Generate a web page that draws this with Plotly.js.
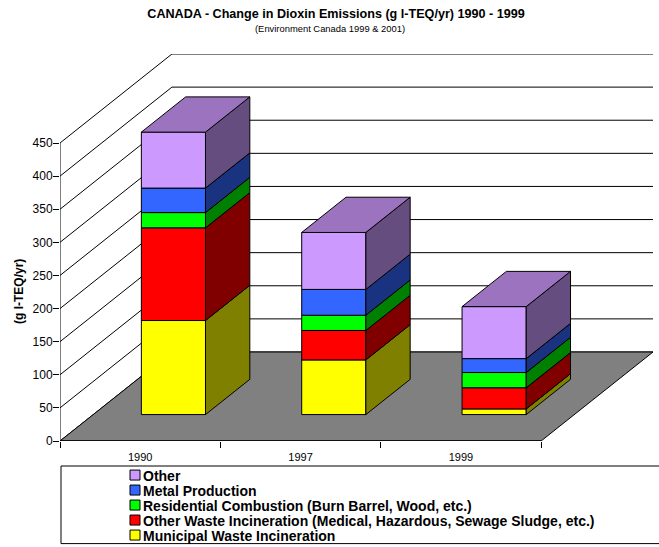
<!DOCTYPE html>
<html><head><meta charset="utf-8">
<script src="https://cdn.plot.ly/plotly-3.0.1.min.js"></script>
<style>html,body{margin:0;padding:0;background:#fff}</style>
</head><body><div id="chart" style="width:659px;height:547px"></div>
<script>
const years = ['1990','1997','1999'];
const municipal = [142, 82.5, 8.5];
const otherWaste = [140, 44.5, 32];
const residential = [23, 23, 23];
const metal = [37, 39, 21];
const other = [84.5, 86, 78.5];
const seriesNames = ['Municipal Waste Incineration','Other Waste Incineration (Medical, Hazardous, Sewage Sludge, etc.)','Residential Combustion (Burn Barrel, Wood, etc.)','Metal Production','Other'];
const frontColors = ['#FFFF00','#FF0000','#00FF00','#3366FF','#CC99FF'];
const sideColors = ['#808000','#800000','#008000','#1A3380','#664D80'];
const topColor = '#9C73BF';
const yTicks = [0,50,100,150,200,250,300,350,400,450];

// oblique projection of the depth axis, in axis units
const DX = 0.698, DY = 134.4;
const barW = 0.4, d0 = 0.297, d1 = 0.693;
const xMax = years.length;
const series = [municipal, otherWaste, residential, metal, other];
const ft = {family:'Liberation Sans, Arial, sans-serif', color:'#000'};
const traces = [];
const poly = (xs, ys, fill, lw, over) => ({type:'scatter', mode:'lines', x:xs, y:ys, fill:fill?'toself':'none', fillcolor:fill||undefined,
  line:{color:'#000', width:lw===undefined?1:lw}, hoverinfo:'skip', showlegend:false, cliponaxis:false,
  xaxis:over?'x2':'x', yaxis:over?'y2':'y'});

// gridlines on left and back walls
let gx=[], gy=[];
yTicks.forEach(v=>{gx.push(0,DX,xMax+DX,null); gy.push(v,v+DY,v+DY,null);});
traces.push(poly(gx,gy));
// floor
traces.push(poly([0,DX,xMax+DX,xMax,0],[0,DY,DY,0,0],'#808080'));
// y axis line, front axis line
traces.push(poly([0,0],[0,yTicks[yTicks.length-1]]));
traces.push(poly([0,xMax],[0,0],null,1.5));

// front faces (on an overlaying subplot so that they sit above the floor)
const cums = years.map(()=>0);
series.forEach((s,k)=>{
  traces.push({type:'bar', name:seriesNames[k], x:years.map((_,c)=>c+0.5+d0*DX), y:s,
    base:s.map((v,c)=>cums[c]+d0*DY), width:barW, xaxis:'x2', yaxis:'y2',
    marker:{color:frontColors[k], line:{color:'#000',width:1}}, cliponaxis:false,
    hovertemplate:'%{y}<extra>'+seriesNames[k]+'</extra>'});
  s.forEach((v,c)=>cums[c]+=v);
});
// side faces and top
years.forEach((yr,c)=>{
  const xr = c+0.5+barW/2;
  let cum = 0;
  series.forEach((s,k)=>{
    const lo=cum, hi=cum+s[c]; cum=hi;
    const X=[xr+d0*DX, xr+d1*DX, xr+d1*DX, xr+d0*DX, xr+d0*DX];
    const Y=[lo+d0*DY, lo+d1*DY, hi+d1*DY, hi+d0*DY, lo+d0*DY];
    traces.push(poly(X,Y,sideColors[k],1,true));
  });
  const xl = xr-barW;
  traces.push(poly([xl+d0*DX,xl+d1*DX,xr+d1*DX,xr+d0*DX,xl+d0*DX],
                   [cum+d0*DY,cum+d1*DY,cum+d1*DY,cum+d0*DY,cum+d0*DY],topColor,1,true));
});

const layout = {
  width:659, height:547, paper_bgcolor:'#fff', plot_bgcolor:'#fff', barmode:'overlay',
  margin:{l:60,r:6,t:53.7,b:106.3,pad:0,autoexpand:false},
  font:ft,
  title:{text:'<b>CANADA - Change in Dioxin Emissions (g I-TEQ/yr) 1990 - 1999</b>', x:336/659, xanchor:'center', y:0.9745, yanchor:'middle',
    font:{family:ft.family,size:12.6,color:'#000'}},
  xaxis:{range:[0,xMax+DX], showgrid:false, zeroline:false, showline:false, fixedrange:true,
    tickmode:'array', tickvals:years.map((_,c)=>c+0.5), ticktext:years, ticks:'outside', ticklen:6, tickcolor:'rgba(0,0,0,0)',
    tickfont:{family:ft.family,size:11,color:'#000'},
    minor:{tickmode:'array', tickvals:years.map((_,c)=>c).concat([xMax]), ticks:'outside', ticklen:6, tickcolor:'#000', tickwidth:1, showgrid:false}},
  yaxis:{range:[0,450+DY], showgrid:false, zeroline:false, showline:false, fixedrange:true,
    tickmode:'array', tickvals:yTicks, ticks:'outside', ticklen:6, tickcolor:'#000', tickwidth:1, ticklabelstandoff:-2,
    tickfont:{family:ft.family,size:12,color:'#000'}},
  xaxis2:{range:[0,xMax+DX], overlaying:'x', visible:false, fixedrange:true},
  yaxis2:{range:[0,450+DY], overlaying:'y', visible:false, fixedrange:true},
  annotations:[
    {text:'<b>(g I-TEQ/yr)</b>', xref:'paper', x:0, xshift:-41, yref:'y', y:225, textangle:-90, showarrow:false,
     xanchor:'center', yanchor:'middle', font:{family:ft.family,size:12,color:'#000'}},
    {text:'(Environment Canada 1999 & 2001)', xref:'paper', x:(330-60)/593, yref:'paper', y:(440.7-28)/387, showarrow:false,
     xanchor:'center', yanchor:'middle', font:{family:ft.family,size:9.4,color:'#000'}}],
  shapes:[{type:'rect', xref:'paper', yref:'paper', x0:1/593, x1:1.02, y0:-25/387, y1:-102.6/387, line:{color:'#000',width:1}, fillcolor:'rgba(0,0,0,0)'}],
  showlegend:true,
  legend:{traceorder:'reversed', x:43/593, xanchor:'left', y:-25.3/387, yanchor:'top', bgcolor:'rgba(0,0,0,0)', borderwidth:0,
    font:{family:ft.family,size:14,color:'#000',weight:'bold'}, itemclick:false, itemdoubleclick:false}
};
Plotly.newPlot('chart', traces, layout, {displayModeBar:false}).then(()=>{
  // tighten the legend into the reference's compact rows with a small key next to the text
  document.querySelectorAll('.legend .traces').forEach((g,i)=>{
    g.setAttribute('transform','translate(0,'+(8.75+15*i)+')');
    const sym=g.querySelector('.legendsymbols');
    if(sym) sym.setAttribute('transform','translate(12,0)');
    g.querySelectorAll('.legendpoints path').forEach(p=>p.setAttribute('d','M5,5H-5V-5H5Z'));
  });
});
</script></body></html>
